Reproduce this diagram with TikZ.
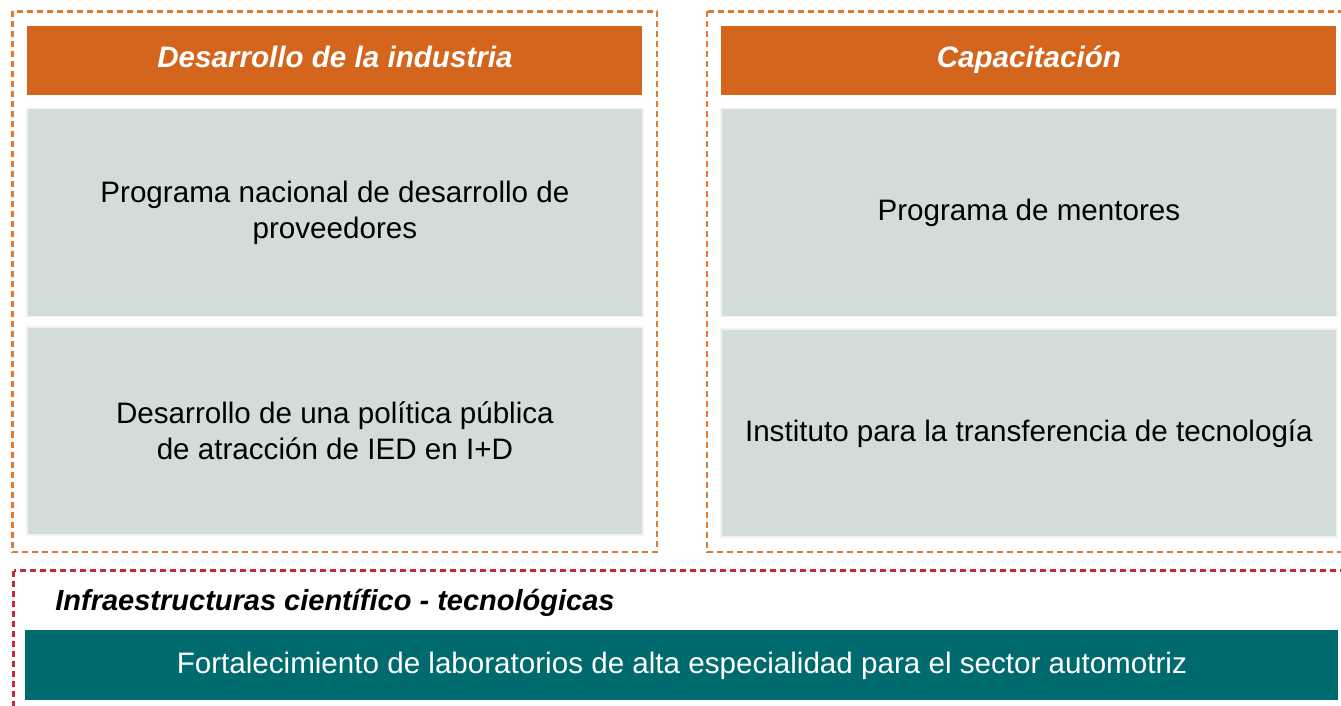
\documentclass[tikz,border=0pt]{standalone}
\usepackage{fontspec}
\setmainfont{Liberation Sans}
\usepackage{tikz}
\usetikzlibrary{positioning}

\definecolor{headorange}{RGB}{212,101,28}
\definecolor{dashorange}{RGB}{224,122,48}
\definecolor{panelgrey}{RGB}{210,220,218}
\definecolor{labteal}{RGB}{0,107,110}
\definecolor{dashred}{RGB}{200,40,60}

\begin{document}
\begin{tikzpicture}[
  x=0.5pt, y=-0.5pt,
  header/.style={fill=headorange, text=white, inner sep=0pt,
    font=\fontsize{14.8}{17}\selectfont\bfseries\itshape,
    text height=10.6pt, text depth=3.6pt,
    minimum width=307.5pt, minimum height=34.5pt},
  panel/.style={fill=panelgrey, draw=black!5, line width=0.8pt, align=center,
    font=\fontsize{14.8}{18}\selectfont, inner sep=0pt,
    minimum width=308pt, minimum height=104pt},
  labbar/.style={fill=labteal, text=white, inner sep=0pt,
    font=\fontsize{14.8}{17}\selectfont,
    minimum width=656.5pt, minimum height=35pt},
  frame/.style={draw=dashorange, line width=1.25pt, dash pattern=on 3pt off 2pt},
  redframe/.style={draw=dashred, line width=1.25pt, dash pattern=on 3pt off 2pt},
]
\useasboundingbox (0,0) rectangle (1341,706);
\clip (0,0) rectangle (1341,706);

% dashed groups
\draw[frame] (12.5,11.5) rectangle (657,552);
\draw[frame] (707,11.5) rectangle (1380,552);
\draw[redframe] (13.5,570.5) rectangle (1380,740);

% left column
\node[header, anchor=north west] (hdrind) at (27,26) {Desarrollo de la industria};
\node[panel, below=6pt of hdrind] (provee) {Programa nacional de desarrollo de\\proveedores};
\node[panel, below=4.5pt of provee] (ied) {Desarrollo de una política pública\\de atracción de IED en I+D};

% right column
\node[header, anchor=north west] (hdrcap) at (721,26) {Capacitación};
\node[panel, below=6pt of hdrcap] (mentor) {Programa de mentores};
\node[panel, below=5.5pt of mentor] (instit) {Instituto para la transferencia de tecnología};

% bottom band
\node[anchor=west, inner sep=0pt, font=\fontsize{14.5}{17}\selectfont\bfseries\itshape]
  (infra) at (55,603) {Infraestructuras científico - tecnológicas};
\node[labbar, anchor=north west] (labs) at (25,630)
  {Fortalecimiento de laboratorios de alta especialidad para el sector automotriz};
\end{tikzpicture}
\end{document}
